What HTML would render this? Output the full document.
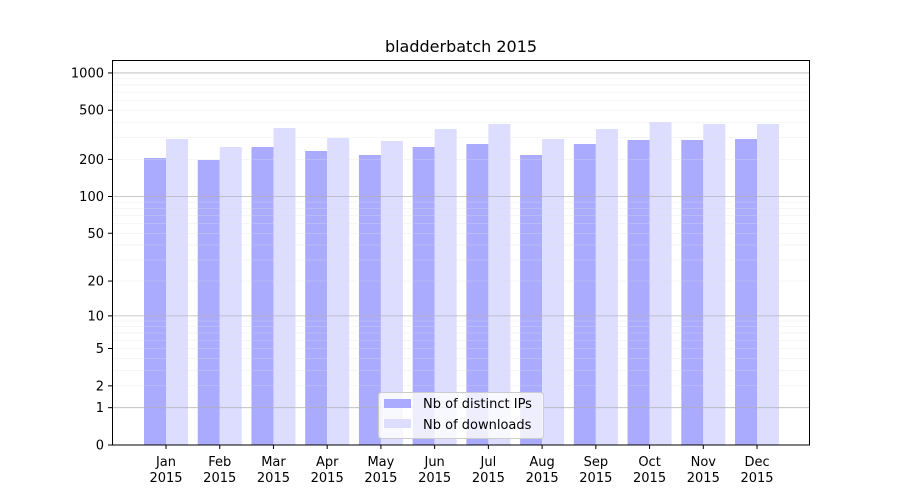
<!DOCTYPE html><html><head><style>body{margin:0;background:#fff}svg{display:block;font-family:"DejaVu Sans","Liberation Sans",sans-serif}</style></head><body>
<svg width="900" height="500" xmlns="http://www.w3.org/2000/svg">
<rect width="900" height="500" fill="#fff"/>
<g id="bars"></g>
<g id="grid"></g>
<rect x="112.5" y="60.5" width="697" height="384.5" fill="none" stroke="#000" stroke-width="1"/>
<g id="ticks" font-size="13" fill="#000"></g>
<text x="461" y="52" font-size="16" text-anchor="middle">bladderbatch 2015</text>
<g>
<rect x="378.5" y="392.5" width="165" height="46" rx="3" fill="#fff" fill-opacity="0.8" stroke="#ccc"/>
<rect x="384" y="399" width="27" height="9" fill="#aaaaff"/>
<rect x="384" y="419" width="27" height="9" fill="#ddddff"/>
<text x="423" y="408" font-size="13">Nb of distinct IPs</text>
<text x="423" y="429" font-size="13">Nb of downloads</text>
</g>
</svg>
<script>
const ns="http://www.w3.org/2000/svg";
function el(p,t,a,txt){const e=document.createElementNS(ns,t);for(const k in a)e.setAttribute(k,a[k]);if(txt!==undefined)e.textContent=txt;document.getElementById(p).appendChild(e);return e;}
const Y=v=>445-124*Math.log10(v+1);
for(let d=1;d<=1000;d*=10){for(let m=1;m<10;m++){const v=d*m;if(v>1100)break;const y=Y(v);
el("grid","line",{x1:113,x2:809,y1:y,y2:y,stroke:m==1?"#b0b0b0":"#e0e0e0","stroke-width":m==1?0.8:0.5,"stroke-opacity":m==1?0.9:0.6});}}
const labs=[0,1,2,5,10,20,50,100,200,500,1000];
labs.forEach(v=>{const y=Y(v);el("ticks","line",{x1:108,x2:112,y1:y,y2:y,stroke:"#000"});el("ticks","text",{x:104,y:y+4.5,"text-anchor":"end"},v);});
const blue=[158,160,147,151,155,147,144,155,144,140,140,139];
const light=[139,147,128,138,141,129,124,139,129,122,124,124];
const mon=["Jan","Feb","Mar","Apr","May","Jun","Jul","Aug","Sep","Oct","Nov","Dec"];
for(let i=0;i<12;i++){const c=166+i*53.73;
el("bars","rect",{x:c-22,y:blue[i],width:22,height:445-blue[i],fill:"#aaaaff"});
el("bars","rect",{x:c,y:light[i],width:22,height:445-light[i],fill:"#ddddff"});
el("ticks","line",{x1:c,x2:c,y1:445,y2:449,stroke:"#000"});
el("ticks","text",{x:c,y:466,"text-anchor":"middle"},mon[i]);
el("ticks","text",{x:c,y:482,"text-anchor":"middle"},"2015");}
</script>
</body></html>
